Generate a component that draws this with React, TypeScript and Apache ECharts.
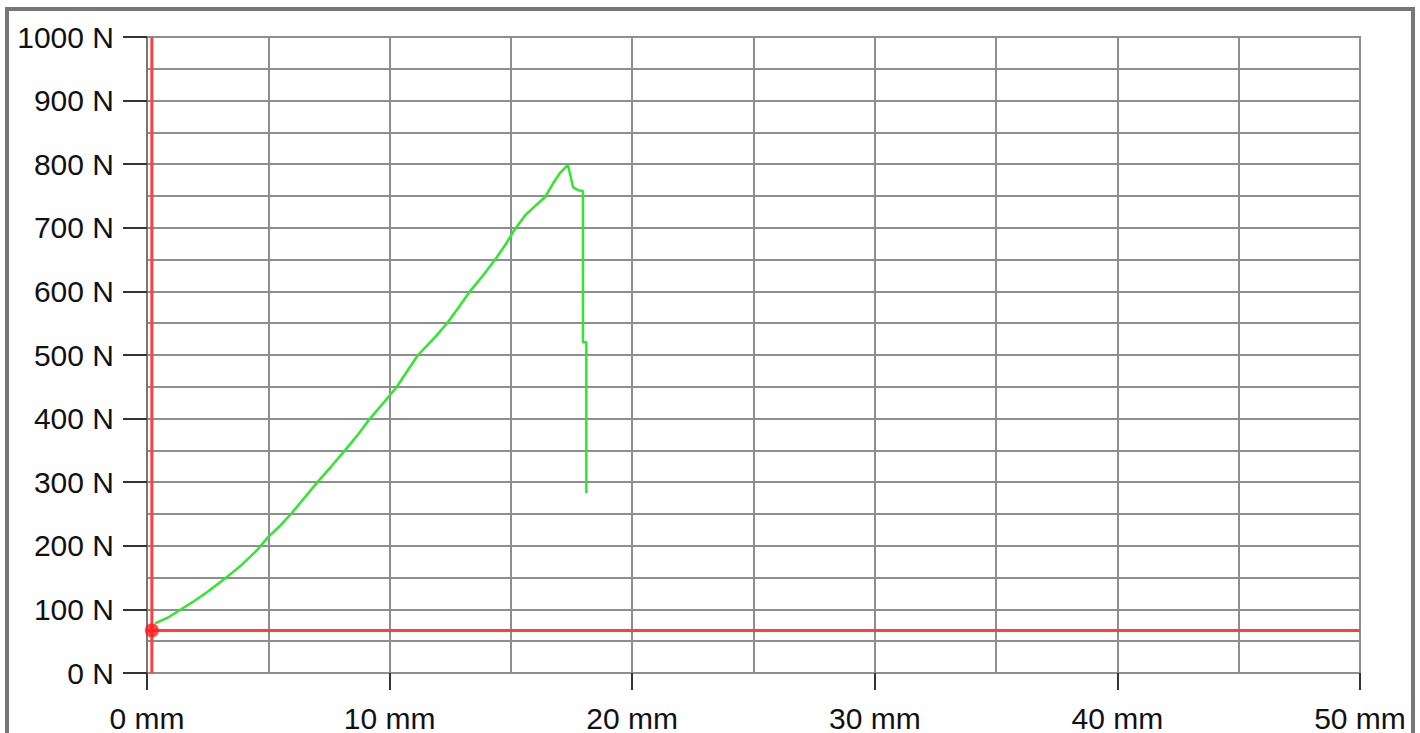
import React, { useEffect, useRef } from "react";
import * as echarts from "echarts";

// Force–displacement curve (mm, N)
const curveX = [0.33, 0.9, 1.36, 1.9, 2.47, 3.2, 3.9, 4.53, 5.0, 5.5, 5.98, 6.5, 7.0, 7.6, 8.16, 8.7, 9.19, 9.75, 10.3, 10.75, 11.17, 11.8, 12.37, 12.85, 13.31, 13.85, 14.35, 14.8, 15.15, 15.6, 15.9, 16.4, 16.74, 17.02, 17.35, 17.56, 17.77, 17.97, 17.97, 18.11, 18.11];
const curveY = [78, 88, 99, 112, 127, 148, 170, 193, 214, 232, 252, 276, 299, 325, 350, 375, 400, 425, 450, 476, 500, 525, 550, 575, 600, 625, 650, 675, 697, 720, 731, 748, 770, 786, 799, 764, 759, 758, 520, 520, 283];

// Red cursor lines and marker
const cursorX = 0.2;
const cursorY = 67;

const xMin = 0;
const xMax = 50;
const yMin = 0;
const yMax = 1000;

export default function App() {
  const ref = useRef<HTMLDivElement>(null);
  useEffect(() => {
    document.body.style.margin = "0";
    if (!ref.current) return;
    const chart = echarts.init(ref.current, null, { renderer: "svg" });
    const font = "Liberation Sans";
    const gridColor = "#8e8e8e";
    chart.setOption({
      animation: false,
      backgroundColor: "#ffffff",
      graphic: [
        {
          type: "rect",
          shape: { x: 7, y: 9, width: 1406, height: 780 },
          style: { fill: "none", stroke: "#777777", lineWidth: 4 },
          z: 100,
        },
      ],
      grid: {
        left: 147,
        right: 60,
        top: 37,
        bottom: 60,
        show: true,
        borderColor: gridColor,
        borderWidth: 2,
        backgroundColor: "#ffffff",
      },
      xAxis: {
        type: "value",
        min: xMin,
        max: xMax,
        interval: 10,
        offset: 5,
        axisLine: { show: false },
        axisTick: { show: true, length: 17, lineStyle: { color: "#333333", width: 2 } },
        axisLabel: {
          margin: 25,
          fontFamily: font,
          fontSize: 30,
          color: "#111111",
          formatter: (v: number) => `${v} mm`,
        },
        splitLine: { show: true, lineStyle: { color: gridColor, width: 2 } },
        minorTick: { show: false, splitNumber: 2 },
        minorSplitLine: { show: true, lineStyle: { color: gridColor, width: 2 } },
      },
      yAxis: {
        type: "value",
        min: yMin,
        max: yMax,
        interval: 100,
        axisLine: { show: true, lineStyle: { color: "#777777", width: 2 } },
        axisTick: { show: true, length: 24, lineStyle: { color: "#333333", width: 2 } },
        axisLabel: {
          margin: 33,
          fontFamily: font,
          fontSize: 30,
          color: "#111111",
          formatter: (v: number) => `${v} N`,
        },
        splitLine: { show: true, lineStyle: { color: gridColor, width: 2 } },
        minorTick: { show: false, splitNumber: 2 },
        minorSplitLine: { show: true, lineStyle: { color: gridColor, width: 2 } },
      },
      series: [
        {
          type: "line",
          data: [
            [cursorX, yMin],
            [cursorX, yMax],
          ],
          symbol: "none",
          lineStyle: { color: "#ff4040", width: 3 },
          z: 3,
        },
        {
          type: "line",
          data: [
            [xMin, cursorY],
            [xMax, cursorY],
          ],
          symbol: "none",
          lineStyle: { color: "#ff4040", width: 3 },
          z: 3,
        },
        {
          type: "line",
          data: curveX.map((x, i) => [x, curveY[i]]),
          symbol: "none",
          lineStyle: { color: "#2ee82e", width: 2.5 },
          z: 4,
        },
        {
          type: "scatter",
          data: [[cursorX, cursorY]],
          symbol: "circle",
          symbolSize: 14,
          itemStyle: { color: "#ff1a1a" },
          z: 5,
        },
      ],
    });
    return () => chart.dispose();
  }, []);
  return <div ref={ref} style={{ width: 1420, height: 733 }} />;
}
